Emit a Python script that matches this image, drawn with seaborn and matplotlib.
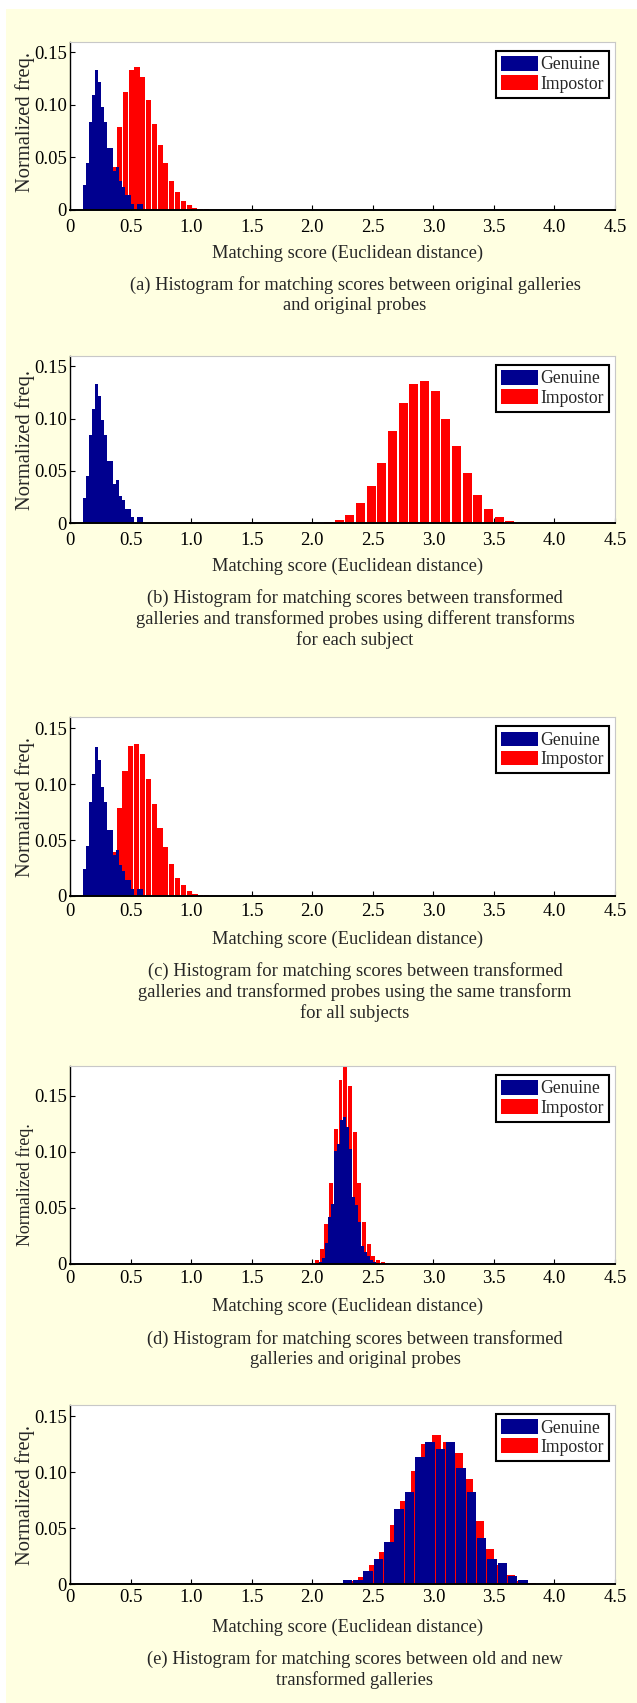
import numpy as np
import matplotlib
matplotlib.use('Agg')
import matplotlib.pyplot as plt
from matplotlib.patches import Patch, Rectangle
import seaborn as sns

# axis ticks
score_ticks = [0, 0.5, 1.0, 1.5, 2.0, 2.5, 3.0, 3.5, 4.0, 4.5]
score_labels = ['0', '0.5', '1.0', '1.5', '2.0', '2.5', '3.0', '3.5', '4.0', '4.5']
freq_ticks = [0, 0.05, 0.10, 0.15]
freq_labels = ['0', '0.05', '0.10', '0.15']

# (a) original galleries vs original probes
genuine_a_start, genuine_a_bin = 0.105, 0.025
genuine_a = [0.024, 0.045, 0.084, 0.109, 0.133, 0.122, 0.098, 0.084, 0.059, 0.059,
             0.037, 0.041, 0.028, 0.022, 0.014, 0.014, 0.006, 0.0, 0.006, 0.006]
impostor_a_start, impostor_a_bin = 0.290, 0.0478
impostor_a = [0.020, 0.041, 0.079, 0.112, 0.133, 0.136, 0.126, 0.105, 0.082, 0.062,
              0.045, 0.028, 0.017, 0.009, 0.0047, 0.0022, 0.001, 0.0005, 0.0003]

# (b) different transforms for each subject
genuine_b_start, genuine_b_bin = 0.105, 0.025
genuine_b = [0.024, 0.045, 0.084, 0.109, 0.133, 0.122, 0.0985, 0.084, 0.059, 0.059,
             0.0375, 0.041, 0.026, 0.022, 0.0137, 0.0137, 0.006, 0.0, 0.006, 0.006]
impostor_b_start, impostor_b_bin = 2.091, 0.088
impostor_b = [0.0013, 0.003, 0.008, 0.019, 0.036, 0.058, 0.088, 0.115, 0.133, 0.136,
              0.126, 0.100, 0.074, 0.048, 0.027, 0.0137, 0.0064, 0.0022, 0.0006, 0.0003,
              0.0002]

# (c) same transform for all subjects
genuine_c_start, genuine_c_bin = 0.105, 0.025
genuine_c = [0.024, 0.045, 0.084, 0.109, 0.133, 0.122, 0.098, 0.084, 0.059, 0.059,
             0.037, 0.041, 0.028, 0.022, 0.014, 0.014, 0.006, 0.0, 0.006, 0.006]
impostor_c_start, impostor_c_bin = 0.285, 0.0482
impostor_c = [0.020, 0.039, 0.079, 0.112, 0.134, 0.1365, 0.127, 0.105, 0.082, 0.061,
              0.044, 0.029, 0.016, 0.0096, 0.0045, 0.002, 0.001, 0.0005]

# (d) transformed galleries vs original probes
genuine_d_start, genuine_d_bin = 2.056, 0.0248
genuine_d = [0.0018, 0.0054, 0.0181, 0.0416, 0.0533, 0.1004, 0.1067, 0.1284, 0.1311, 0.1221,
             0.1022, 0.0597, 0.0524, 0.0371, 0.0154, 0.0108, 0.0072, 0.003, 0.0018, 0.0009]
impostor_d_start, impostor_d_bin = 2.0206, 0.0387
impostor_d = [0.0036, 0.0127, 0.0353, 0.0723, 0.1207, 0.1637, 0.1768, 0.1588, 0.1172, 0.0723,
              0.0371, 0.0172, 0.0072, 0.003, 0.0015, 0.0006]

# (e) old vs new transformed galleries
genuine_e_start, genuine_e_bin = 2.163, 0.0853
genuine_e = [0.0015, 0.0036, 0.0036, 0.0116, 0.0223, 0.0375, 0.067, 0.082, 0.1135, 0.127,
             0.1206, 0.127, 0.1037, 0.082, 0.041, 0.0223, 0.0188, 0.0074, 0.0036]
impostor_e_start, impostor_e_bin = 2.1145, 0.087
impostor_e = [0.0012, 0.0015, 0.003, 0.0066, 0.017, 0.029, 0.053, 0.0745, 0.101, 0.1254,
              0.1329, 0.127, 0.117, 0.094, 0.0566, 0.0316, 0.017, 0.008, 0.003, 0.0012]

captions = [
    ['(a) Histogram for matching scores between original galleries', 'and original probes'],
    ['(b) Histogram for matching scores between transformed',
     'galleries and transformed probes using different transforms', 'for each subject'],
    ['(c) Histogram for matching scores between transformed',
     'galleries and transformed probes using the same transform', 'for all subjects'],
    ['(d) Histogram for matching scores between transformed', 'galleries and original probes'],
    ['(e) Histogram for matching scores between old and new', 'transformed galleries'],
]

panels = [
    (genuine_a_start, genuine_a_bin, genuine_a, impostor_a_start, impostor_a_bin, impostor_a),
    (genuine_b_start, genuine_b_bin, genuine_b, impostor_b_start, impostor_b_bin, impostor_b),
    (genuine_c_start, genuine_c_bin, genuine_c, impostor_c_start, impostor_c_bin, impostor_c),
    (genuine_d_start, genuine_d_bin, genuine_d, impostor_d_start, impostor_d_bin, impostor_d),
    (genuine_e_start, genuine_e_bin, genuine_e, impostor_e_start, impostor_e_bin, impostor_e),
]

# layout in pixels: axes top, axes bottom, y max, x tick pad, bar shrink (genuine, impostor),
# y label size and vertical position
layout = [
    (41.7, 210.0, 0.16, 6.5, 1.0, 0.88, 14.8, 0.52),
    (355.7, 523.3, 0.16, 6.5, 1.0, 0.83, 14.8, 0.5),
    (717.3, 896.0, 0.16, 4.8, 1.0, 0.88, 14.8, 0.5),
    (1065.7, 1263.7, 0.1768, 4.8, 1.0, 0.85, 13.0, 0.40),
    (1405.0, 1584.3, 0.16, 3.6, 0.915, 0.90, 14.8, 0.5),
]

W, H = 637, 1703
BLUE = '#00008F'
RED = '#FF0000'
BG = '#FFFFE1'

sns.set_style('ticks')
plt.rcParams['font.family'] = ['Liberation Serif', 'DejaVu Serif']


def draw_hist(ax, start, width, heights, shrink, color):
    n = len(heights)
    centers = start + width * (np.arange(n) + 0.5)
    sns.histplot(x=centers, weights=list(heights), bins=n, binrange=(start, start + width * n),
                 shrink=shrink, color=color, alpha=1, linewidth=0, edgecolor='none', ax=ax)


fig = plt.figure(figsize=(W / 100, H / 100), dpi=100, facecolor='white')
fig.patches.append(Rectangle((6 / W, 0), 1 - 6 / W, 1 - 9 / H, transform=fig.transFigure,
                             facecolor=BG, edgecolor='none', zorder=-10))

for (gs, gb, gv, is_, ib, iv), lay, cap in zip(panels, layout, captions):
    top, bot, ymax, pad, gshrink, ishrink, ylab_size, ylab_y = lay
    h = bot - top
    ax = fig.add_axes([70 / W, 1 - bot / H, 545 / W, h / H])
    ax.set_facecolor('white')

    draw_hist(ax, is_, ib, iv, ishrink, RED)
    draw_hist(ax, gs, gb, gv, gshrink, BLUE)

    ax.set_xlim(0, 4.5)
    ax.set_ylim(0, ymax)
    ax.set_xticks(score_ticks, score_labels)
    ax.set_yticks(freq_ticks, freq_labels)
    ax.tick_params(direction='in', length=3.6, width=0.8, labelsize=13.4,
                   top=False, right=False, colors='black')
    ax.tick_params(axis='x', pad=pad)
    ax.tick_params(axis='y', pad=2.4)

    for side in ['top', 'right']:
        ax.spines[side].set_color('#c8c8c8')
        ax.spines[side].set_linewidth(0.8)
    ax.spines['left'].set_color('black')
    ax.spines['left'].set_linewidth(1.0)
    ax.spines['bottom'].set_color('black')
    ax.spines['bottom'].set_linewidth(1.4)

    ax.set_xlabel('Matching score (Euclidean distance)', fontsize=13.3, va='center')
    ax.xaxis.set_label_coords((347.5 - 70) / 545, -43 / h)
    ax.set_ylabel('Normalized freq.', fontsize=ylab_size, va='center', ha='center')
    ax.yaxis.set_label_coords(-45 / 545, ylab_y)

    handles = [Patch(facecolor=BLUE, edgecolor='none', label='Genuine'),
               Patch(facecolor=RED, edgecolor='none', label='Impostor')]
    leg = ax.legend(handles=handles, loc='upper right', bbox_to_anchor=(0.989, 1 - 9 / h),
                    borderaxespad=0, fontsize=12.7, frameon=True, fancybox=False,
                    framealpha=1, edgecolor='black', borderpad=0.3, labelspacing=0.1,
                    handlelength=2.05, handleheight=0.9, handletextpad=0.15)
    leg.get_frame().set_linewidth(1.5)

    for i, line in enumerate(cap):
        fig.text(355 / W, 1 - (bot + 75 + 21 * i) / H, line, ha='center', va='center',
                 fontsize=13.3)

fig.savefig('out.png', dpi=100, facecolor=fig.get_facecolor())
